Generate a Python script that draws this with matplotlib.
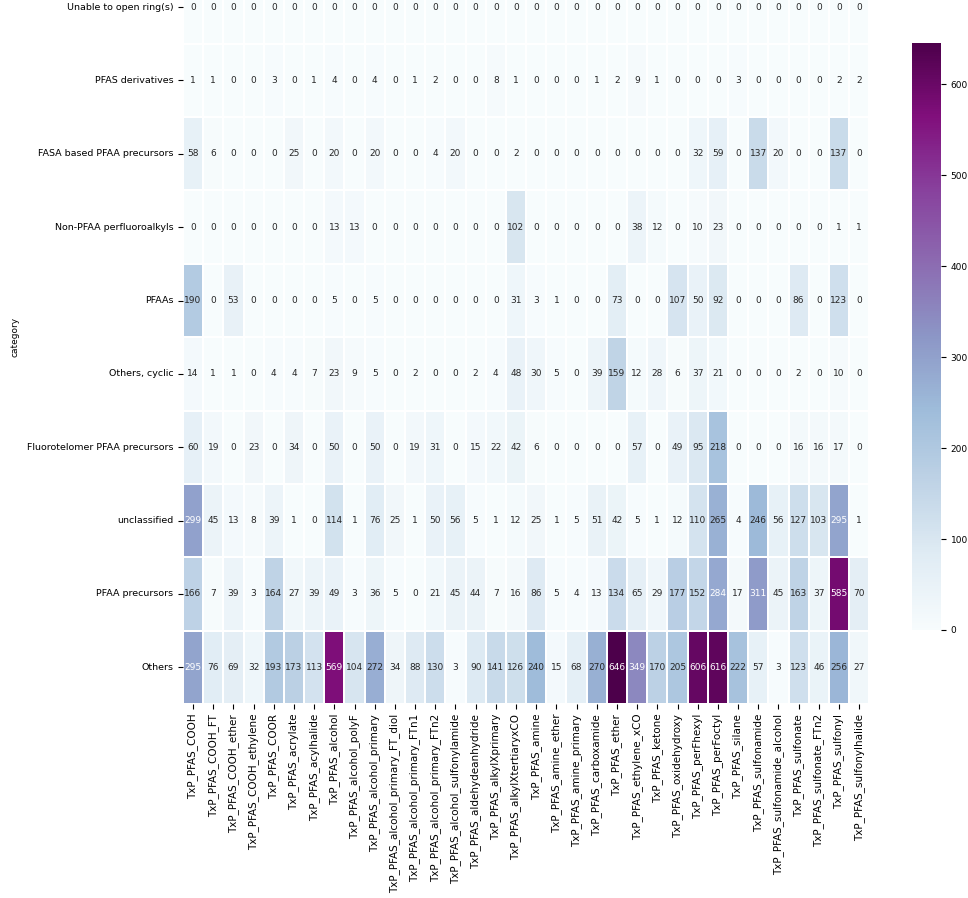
import matplotlib
matplotlib.use("Agg")
import matplotlib.pyplot as plt
import numpy as np
import pandas as pd
import seaborn as sns

categories = [
    "Unable to open ring(s)",
    "PFAS derivatives",
    "FASA based PFAA precursors",
    "Non-PFAA perfluoroalkyls",
    "PFAAs",
    "Others, cyclic",
    "Fluorotelomer PFAA precursors",
    "unclassified",
    "PFAA precursors",
    "Others",
]

groups = [
    "TxP_PFAS_COOH", "TxP_PFAS_COOH_FT", "TxP_PFAS_COOH_ether", "TxP_PFAS_COOH_ethylene",
    "TxP_PFAS_COOR", "TxP_PFAS_acrylate", "TxP_PFAS_acylhalide", "TxP_PFAS_alcohol",
    "TxP_PFAS_alcohol_polyF", "TxP_PFAS_alcohol_primary", "TxP_PFAS_alcohol_primary_FT_diol",
    "TxP_PFAS_alcohol_primary_FTn1", "TxP_PFAS_alcohol_primary_FTn2",
    "TxP_PFAS_alcohol_sulfonylamide", "TxP_PFAS_aldehydeanhydride", "TxP_PFAS_alkylXprimary",
    "TxP_PFAS_alkylXtertiaryxCO", "TxP_PFAS_amine", "TxP_PFAS_amine_ether",
    "TxP_PFAS_amine_primary", "TxP_PFAS_carboxamide", "TxP_PFAS_ether",
    "TxP_PFAS_ethylene_xCO", "TxP_PFAS_ketone", "TxP_PFAS_oxidehydroxy", "TxP_PFAS_perFhexyl",
    "TxP_PFAS_perFoctyl", "TxP_PFAS_silane", "TxP_PFAS_sulfonamide",
    "TxP_PFAS_sulfonamide_alcohol", "TxP_PFAS_sulfonate", "TxP_PFAS_sulfonate_FTn2",
    "TxP_PFAS_sulfonyl", "TxP_PFAS_sulfonylhalide",
]

unable = [0] * 34
derivatives = [1, 1, 0, 0, 3, 0, 1, 4, 0, 4, 0, 1, 2, 0, 0, 8, 1, 0, 0, 0,
               1, 2, 9, 1, 0, 0, 0, 3, 0, 0, 0, 0, 2, 2]
fasa = [58, 6, 0, 0, 0, 25, 0, 20, 0, 20, 0, 0, 4, 20, 0, 0, 2, 0, 0, 0,
        0, 0, 0, 0, 0, 32, 59, 0, 137, 20, 0, 0, 137, 0]
non_pfaa = [0, 0, 0, 0, 0, 0, 0, 13, 13, 0, 0, 0, 0, 0, 0, 0, 102, 0, 0, 0,
            0, 0, 38, 12, 0, 10, 23, 0, 0, 0, 0, 0, 1, 1]
pfaas = [190, 0, 53, 0, 0, 0, 0, 5, 0, 5, 0, 0, 0, 0, 0, 0, 31, 3, 1, 0,
         0, 73, 0, 0, 107, 50, 92, 0, 0, 0, 86, 0, 123, 0]
others_cyclic = [14, 1, 1, 0, 4, 4, 7, 23, 9, 5, 0, 2, 0, 0, 2, 4, 48, 30, 5, 0,
                 39, 159, 12, 28, 6, 37, 21, 0, 0, 0, 2, 0, 10, 0]
fluorotelomer = [60, 19, 0, 23, 0, 34, 0, 50, 0, 50, 0, 19, 31, 0, 15, 22, 42, 6, 0, 0,
                 0, 0, 57, 0, 49, 95, 218, 0, 0, 0, 16, 16, 17, 0]
unclassified = [299, 45, 13, 8, 39, 1, 0, 114, 1, 76, 25, 1, 50, 56, 5, 1, 12, 25, 1, 5,
                51, 42, 5, 1, 12, 110, 265, 4, 246, 56, 127, 103, 295, 1]
pfaa_precursors = [166, 7, 39, 3, 164, 27, 39, 49, 3, 36, 5, 0, 21, 45, 44, 7, 16, 86, 5, 4,
                   13, 134, 65, 29, 177, 152, 284, 17, 311, 45, 163, 37, 585, 70]
others = [295, 76, 69, 32, 193, 173, 113, 569, 104, 272, 34, 88, 130, 3, 90, 141, 126, 240, 15, 68,
          270, 646, 349, 170, 205, 606, 616, 222, 57, 3, 123, 46, 256, 27]

df = pd.DataFrame(
    [unable, derivatives, fasa, non_pfaa, pfaas, others_cyclic,
     fluorotelomer, unclassified, pfaa_precursors, others],
    index=pd.Index(categories, name="category"),
    columns=groups,
)

fig = plt.figure(figsize=(9.68, 8.98), dpi=100)
# top of the heatmap runs past the figure edge, as in the cropped original
ax = fig.add_axes([0.189, 0.216, 0.709, 0.817])
cax = fig.add_axes([0.942, 0.2985, 0.030, 0.654])

sns.heatmap(df, ax=ax, cbar_ax=cax, cmap="BuPu", annot=True, fmt="d",
            annot_kws={"fontsize": 6.5}, linewidths=0.3, linecolor="white")

ax.tick_params(axis="x", labelsize=7.5, rotation=90)
ax.tick_params(axis="y", labelsize=6.8, rotation=0)
ax.set_ylabel("category", fontsize=6.5)
ax.yaxis.set_label_coords(-0.238, 0.5)
ax.set_xlabel("")
cax.tick_params(labelsize=6.5)

fig.savefig("out.png", dpi=100)
